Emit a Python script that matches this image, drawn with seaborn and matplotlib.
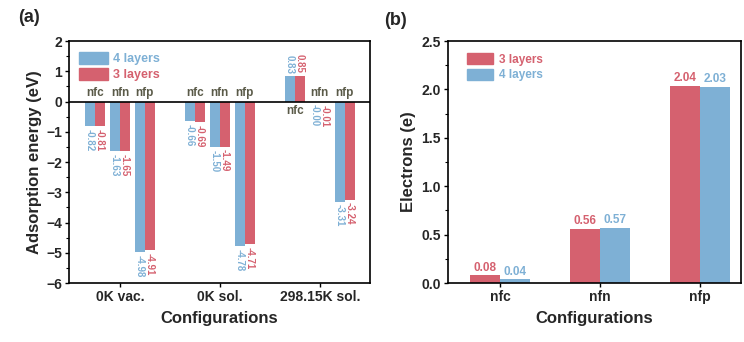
import numpy as np
import pandas as pd
import matplotlib
matplotlib.use("Agg")
import matplotlib.pyplot as plt
import seaborn as sns
from matplotlib.ticker import AutoMinorLocator, MultipleLocator
from matplotlib.patches import Patch

# ---------------- data ----------------
conditions = ["0K vac.", "0K sol.", "298.15K sol."]
sites = ["nfc", "nfn", "nfp"]
energy_4l = [-0.82, -1.63, -4.98, -0.66, -1.50, -4.78, 0.83, -0.004, -3.31]
energy_3l = [-0.81, -1.65, -4.91, -0.69, -1.49, -4.71, 0.85, -0.01, -3.24]

configs_b = ["nfc", "nfn", "nfp"]
electrons_3l = [0.08, 0.56, 2.04]
electrons_4l = [0.04, 0.57, 2.03]

BLUE = "#7eb0d5"
RED = "#d5616f"
SITE_COLOR = "#5a5a48"

sns.set_theme(style="white")
plt.rcParams["font.family"] = ["Liberation Sans", "DejaVu Sans"]
plt.rcParams["font.weight"] = "bold"

fig = plt.figure(figsize=(7.44, 3.42), dpi=100)
axa = fig.add_axes([0.0927, 0.1725, 0.4043, 0.7075])
axb = fig.add_axes([0.602, 0.1725, 0.394, 0.7075])

# ---------------- panel (a) ----------------
offsets = [-0.25, 0.0, 0.25]
pos = [round(g + o, 2) for g in range(len(conditions)) for o in offsets]
site_lab = [s for _ in conditions for s in sites]
df_a = pd.DataFrame({
    "pos": pos * 2,
    "site": site_lab * 2,
    "layer": ["4 layers"] * 9 + ["3 layers"] * 9,
    "energy": energy_4l + energy_3l,
})
sns.barplot(data=df_a, x="pos", y="energy", hue="layer",
            hue_order=["4 layers", "3 layers"], palette=[BLUE, RED],
            native_scale=True, width=0.8, dodge=True, errorbar=None,
            saturation=1, linewidth=0, ax=axa, legend=False)

for cont, col in zip(axa.containers, [BLUE, RED]):
    axa.bar_label(cont, fmt="%.2f", rotation=270, padding=2, color=col,
                  fontsize=7, fontweight="bold")

axa.axhline(0, color="black", lw=1.2, zorder=5)
for p, s, e in zip(pos, site_lab, energy_4l):
    if e > 0.1:
        axa.text(p, -0.12, s, ha="center", va="top", color=SITE_COLOR,
                 fontsize=8.5, fontweight="bold")
    else:
        axa.text(p, 0.1, s, ha="center", va="bottom", color=SITE_COLOR,
                 fontsize=8.5, fontweight="bold")

axa.set_xlim(-0.51, 2.5)
axa.set_ylim(-6, 2)
axa.set_xticks(range(len(conditions)))
axa.set_xticklabels(conditions)
axa.yaxis.set_major_locator(MultipleLocator(1))
axa.yaxis.set_minor_locator(AutoMinorLocator(2))
axa.set_ylabel("Adsorption energy (eV)", fontsize=12, fontweight="bold", labelpad=3)
axa.set_xlabel("Configurations", fontsize=12, fontweight="bold", labelpad=5)

handles_a = [Patch(color=BLUE), Patch(color=RED)]
leg = axa.legend(handles_a, ["4 layers", "3 layers"], loc="upper left",
                 frameon=False, fontsize=9, handlelength=2.3, handleheight=1.1,
                 labelspacing=0.2, handletextpad=0.35, borderpad=0,
                 borderaxespad=0, bbox_to_anchor=(0.035, 0.955))
for t, c in zip(leg.get_texts(), [BLUE, RED]):
    t.set_color(c)
    t.set_fontweight("bold")

# ---------------- panel (b) ----------------
df_b = pd.DataFrame({
    "config": configs_b * 2,
    "layer": ["3 layers"] * 3 + ["4 layers"] * 3,
    "electrons": electrons_3l + electrons_4l,
})
sns.barplot(data=df_b, x="config", y="electrons", hue="layer",
            hue_order=["3 layers", "4 layers"], palette=[RED, BLUE],
            width=0.6, dodge=True, errorbar=None, saturation=1, linewidth=0,
            ax=axb, legend=False)
for cont, col in zip(axb.containers, [RED, BLUE]):
    axb.bar_label(cont, fmt="%.2f", padding=1, color=col, fontsize=8.5,
                  fontweight="bold")

axb.set_xlim(-0.52, 2.41)
axb.set_ylim(0, 2.5)
axb.yaxis.set_major_locator(MultipleLocator(0.5))
axb.yaxis.set_minor_locator(AutoMinorLocator(2))
axb.set_ylabel("Electrons (e)", fontsize=12, fontweight="bold", labelpad=4)
axb.set_xlabel("Configurations", fontsize=12, fontweight="bold", labelpad=5)

handles_b = [Patch(color=RED), Patch(color=BLUE)]
legb = axb.legend(handles_b, ["3 layers", "4 layers"], loc="upper left",
                  frameon=False, fontsize=8.5, handlelength=2.2, handleheight=1.1,
                  labelspacing=0.25, handletextpad=0.5, borderpad=0,
                  borderaxespad=0, bbox_to_anchor=(0.065, 0.95))
for t, c in zip(legb.get_texts(), [RED, BLUE]):
    t.set_color(c)
    t.set_fontweight("bold")

for ax in (axa, axb):
    for sp in ax.spines.values():
        sp.set_color("black")
        sp.set_linewidth(1.2)
    ax.tick_params(axis="both", which="major", direction="out", length=3,
                   width=1, color="black", labelsize=10, pad=2, left=True, bottom=True)
    ax.tick_params(axis="y", which="minor", direction="out", length=2,
                   width=0.8, color="black", left=True)
    for lab in ax.get_xticklabels() + ax.get_yticklabels():
        lab.set_fontweight("bold")

fig.text(0.025, 0.95, "(a)", fontsize=13, fontweight="bold", ha="left", va="center")
fig.text(0.516, 0.94, "(b)", fontsize=13, fontweight="bold", ha="left", va="center")

fig.savefig("out.png", dpi=100, facecolor="white")
